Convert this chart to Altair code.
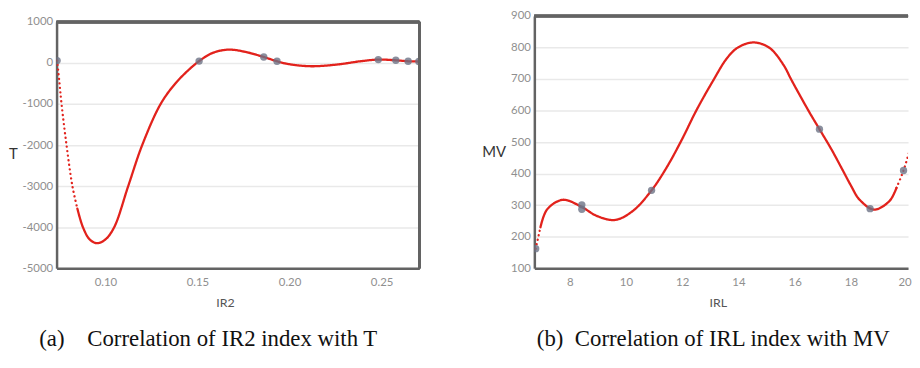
import altair as alt
import pandas as pd

# ---------- data ----------
# (a) fitted curve of T against IR2
ir2_curve = [0.0738, 0.0750, 0.0762, 0.0789, 0.0821, 0.0848, 0.0878, 0.0915, 0.0955,
             0.1000, 0.1048, 0.1124, 0.1200, 0.1300, 0.1380, 0.1452, 0.1509,
             0.1580, 0.1667, 0.1760, 0.1860, 0.1932, 0.1990, 0.2115, 0.2258, 0.2384,
             0.2482, 0.2577, 0.2644, 0.2702]
t_curve = [58, -450, -1000, -2000, -3000, -3550, -4000, -4300, -4390,
           -4300, -4000, -3000, -2000, -1000, -500, -170, 45,
           240, 324, 270, 145, 41, -24, -80, -39, 41,
           82, 65, 41, 35]
# observed samples (a)
ir2_obs = [0.0738, 0.1509, 0.1860, 0.1932, 0.2482, 0.2577, 0.2644, 0.2702]
t_obs = [58, 45, 145, 41, 82, 65, 41, 35]

# (b) fitted curve of MV against IRL
irl_curve = [6.79, 6.96, 7.20, 7.76, 8.43, 8.96, 9.61, 10.25, 10.91, 11.45, 12.00,
             12.50, 13.10, 13.60, 14.00, 14.54, 15.10, 15.60, 15.89, 16.50, 16.88,
             17.30, 17.70, 18.00, 18.30, 18.82, 19.37, 19.62, 19.87, 20.17]
mv_curve = [162, 230, 287, 317, 294, 266, 253, 282, 347, 420, 510,
            600, 695, 767, 801, 816, 799, 745, 696, 598, 541,
            478, 412, 362, 318, 286, 313, 355, 410, 500]
# observed samples (b)
irl_obs = [6.79, 8.43, 8.43, 10.91, 16.88, 18.68, 19.87]
mv_obs = [162, 301, 287, 347, 541, 289, 410]

# axis ticks
ir2_ticks = [0.10, 0.15, 0.20, 0.25]
t_ticks = [-5000, -4000, -3000, -2000, -1000, 0, 1000]
irl_ticks = [8, 10, 12, 14, 16, 18, 20]
mv_ticks = [100, 200, 300, 400, 500, 600, 700, 800, 900]

# dotted stretches of the fitted curves (x ranges)
dotted_a = [(0.0738, 0.0848)]
dotted_b = [(6.79, 6.96), (19.62, 20.17)]

RED = "#e2221c"
FRAME = "#636363"
GRID = "#e9e9e9"
PTS = "#6d7386"
LABEL_FONT = "Lato"


def curve_frame(xs, ys, dotted):
    rows = []
    bounds = sorted({xs[0], xs[-1]} | {a for a, b in dotted} | {b for a, b in dotted})
    for k in range(len(bounds) - 1):
        lo, hi = bounds[k], bounds[k + 1]
        style = "dot" if any(abs(lo - a) < 1e-9 and abs(hi - b) < 1e-9 for a, b in dotted) else "solid"
        for x, y in zip(xs, ys):
            if lo - 1e-9 <= x <= hi + 1e-9:
                rows.append({"x": x, "y": y, "seg": k, "style": style})
    return pd.DataFrame(rows)


def panel(xs, ys, ox, oy, dotted, xdom, ydom, yrange, width, height,
          xticks, yticks, xfmt, xtitle, ytitle, xtitle_x, ytitle_x, ytitle_y,
          caption, cap_dx, right_frame, flush, neg_labels):
    cdf = curve_frame(xs, ys, dotted)
    pdf = pd.DataFrame({"x": ox, "y": oy})
    xscale = alt.Scale(domain=xdom, nice=False, zero=False)
    yscale = alt.Scale(domain=ydom, nice=False, zero=False, range=yrange)

    xaxis = alt.Axis(values=xticks, format=xfmt, title=xtitle, grid=False,
                     ticks=False, tickSize=0, domain=True, domainColor=FRAME,
                     domainWidth=2.5, labelPadding=8, labelFont=LABEL_FONT,
                     labelFontSize=11.5, labelColor="#8f8f8f", labelOverlap=False,
                     tickCount=len(xticks),
                     titleFont=LABEL_FONT, titleFontSize=12.5, titleFontWeight="normal",
                     titleColor="#555555", titleX=xtitle_x, titleY=35,
                     titleAlign="center", titleBaseline="middle",
                     labelFlush=flush, labelFlushOffset=4 if flush else 0)
    yargs = dict(values=yticks, title=ytitle, grid=True, gridColor=GRID,
                 gridWidth=1.5, ticks=False, tickSize=0, domain=True,
                 domainColor=FRAME, domainWidth=2.5, labelPadding=4,
                 labelOverlap=False, format="d", tickCount=len(yticks),
                 labelFont=LABEL_FONT, labelFontSize=11.5, labelColor="#8f8f8f",
                 titleFont=LABEL_FONT, titleFontSize=15, titleFontWeight="normal",
                 titleColor="#333333", titleAngle=0, titleX=ytitle_x, titleY=ytitle_y,
                 titleAlign="center", titleBaseline="middle")
    if neg_labels:
        yargs["labelExpr"] = "datum.value < 0 ? '-' + abs(datum.value) : '' + datum.value"
    yaxis = alt.Axis(**yargs)

    line = alt.Chart(cdf).mark_line(interpolate="catmull-rom", strokeWidth=2.3,
                                    strokeCap="round", color=RED, clip=True).encode(
        x=alt.X("x:Q", scale=xscale, axis=xaxis),
        y=alt.Y("y:Q", scale=yscale, axis=yaxis),
        detail="seg:N",
        strokeDash=alt.StrokeDash("style:N", legend=None,
                                  scale=alt.Scale(domain=["solid", "dot"],
                                                  range=[[1, 0], [0.1, 4.5]])),
    )
    pts = alt.Chart(pdf).mark_circle(size=55, color=PTS, opacity=0.8, clip=True).encode(
        x=alt.X("x:Q", scale=xscale),
        y=alt.Y("y:Q", scale=yscale),
    )
    top = alt.Chart(pdf).mark_rule(color=FRAME, strokeWidth=2.5).encode(
        x=alt.X(datum=xdom[0], scale=xscale),
        x2=alt.X2(datum=xdom[1]),
        y=alt.Y(datum=ydom[1], scale=yscale),
    )
    layers = [line, top, pts]
    if right_frame:
        rf = alt.Chart(pdf).mark_rule(color=FRAME, strokeWidth=2.5).encode(
            x=alt.X(datum=xdom[1], scale=xscale),
            y=alt.Y(datum=ydom[0], scale=yscale),
            y2=alt.Y2(datum=ydom[1]),
        )
        layers.append(rf)
    return alt.layer(*layers).properties(
        width=width, height=height,
        title=alt.TitleParams(caption, orient="bottom", anchor="middle", frame="group",
                              font="Liberation Serif", fontSize=23, fontWeight="normal",
                              color="#111111", baseline="top", offset=19, dx=cap_dx),
    )


left = panel(ir2_curve, t_curve, ir2_obs, t_obs, dotted_a,
             [0.0735, 0.2705], [-5000, 1000], [260, 11.5], 366, 260,
             ir2_ticks, t_ticks, ".2f", "IR2", "T", 170, -44, 144,
             "(a)\u00a0\u00a0\u00a0 Correlation of IR2 index with T", -30, True, False, True)
right = panel(irl_curve, mv_curve, irl_obs, mv_obs, dotted_b,
              [6.742, 20.03], [100, 900], [260, 5.5], 377, 260,
              irl_ticks, mv_ticks, "d", "IRL", "MV", 185, -41, 142,
              "(b)\u00a0 Correlation of IRL index with MV", -8, False, 6, False)

chart = alt.hconcat(left, right, spacing=60).properties(
    padding={"left": 0, "top": 0, "right": 0, "bottom": 0},
    background="white",
).configure_view(stroke=None).configure_axis(labelOverlap=False)

chart.save("out.html", embed_options={"renderer": "svg", "actions": False})
